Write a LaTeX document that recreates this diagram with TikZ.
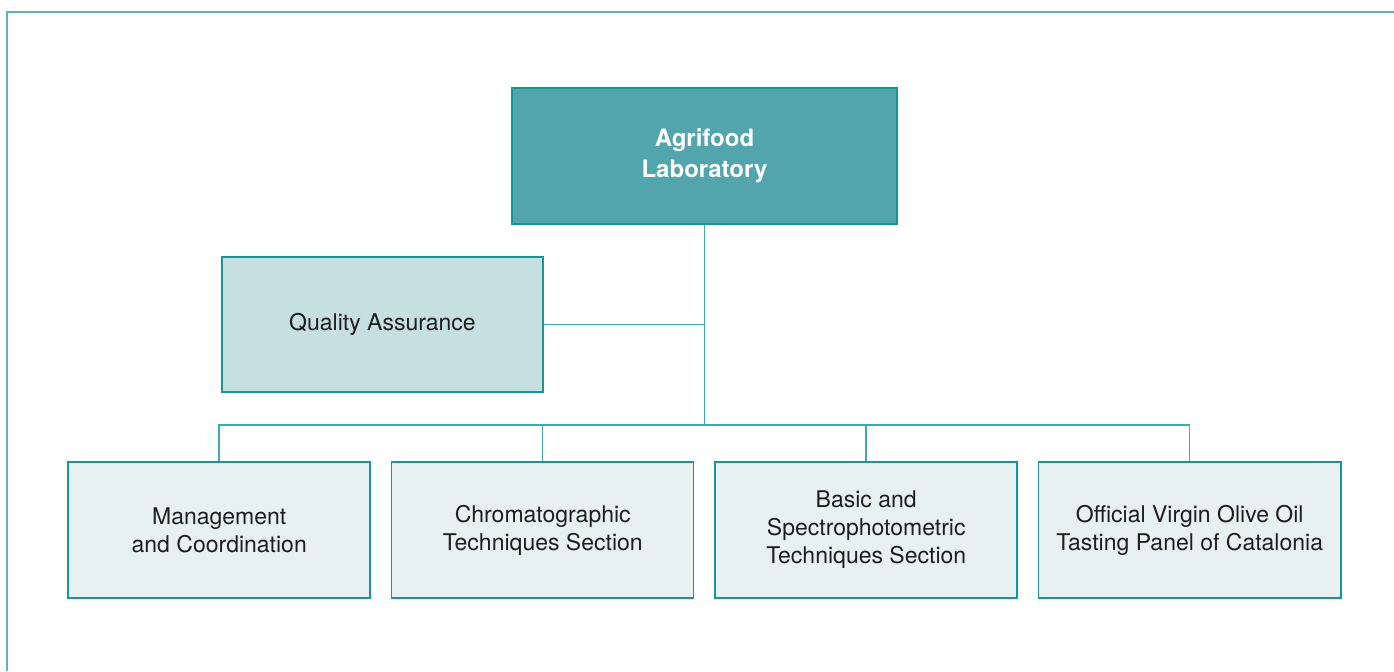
\documentclass[tikz,border=0pt]{standalone}
\usepackage{fontspec}
\setmainfont{TeX Gyre Heros}
\usepackage{xcolor}
\usepackage{tikz}
\usetikzlibrary{positioning}
\definecolor{labteal}{RGB}{83,165,173}
\definecolor{labedge}{RGB}{22,150,150}
\definecolor{labline}{RGB}{60,170,174}
\definecolor{labframe}{RGB}{95,180,185}
\definecolor{qafill}{RGB}{198,223,224}
\definecolor{secfill}{RGB}{232,241,242}
\definecolor{labtext}{RGB}{30,30,30}
\tikzstyle{head} = [rectangle, minimum width=192.5pt, minimum height=68pt, align=center, draw=labedge, fill=labteal, text=white, font=\bfseries\fontsize{12}{15.5}\selectfont]
\tikzstyle{staff} = [rectangle, minimum width=160.5pt, minimum height=67.5pt, align=center, draw=labedge, fill=qafill, text=labtext, font=\fontsize{11.5}{14}\selectfont]
\tikzstyle{sec} = [rectangle, minimum width=151pt, minimum height=68pt, align=center, draw=labedge, fill=secfill, text=labtext, font=\fontsize{11.5}{14}\selectfont]
\tikzstyle{link} = [draw=labline, line width=0.75pt]
\tikzstyle{frame} = [draw=labframe, line width=1pt]

\begin{document}
\begin{tikzpicture}[node distance=161.75pt, line width=0.75pt]
\useasboundingbox (-352.25pt,78pt) rectangle (344.75pt,-257.5pt);
\draw [frame] (344.75pt,72pt) -| (-348.5pt,-257.5pt);

\node (lab) [head] {Agrifood\\Laboratory};
\node (qa) [staff] at (-161pt,-84.25pt) {Quality Assurance};

\node (mgmt) [sec] at (-242.625pt,-187pt) {Management\\and Coordination};
\node (chrom) [sec, right of=mgmt] {Chromatographic\\Techniques Section};
\node (spec) [sec, right of=chrom] {Basic and\\Spectrophotometric\\Techniques Section};
\node (panel) [sec, right of=spec] {Official Virgin Olive Oil\\Tasting Panel of Catalonia};

\coordinate (bus) at (0,-134.5pt);

\draw [link] (lab) -- (bus);
\draw [link] (qa) -- (qa -| lab);

\draw [link] (bus) -| (mgmt);
\draw [link] (bus) -| (chrom);
\draw [link] (bus) -| (spec);
\draw [link] (bus) -| (panel);

\end{tikzpicture}
\end{document}
